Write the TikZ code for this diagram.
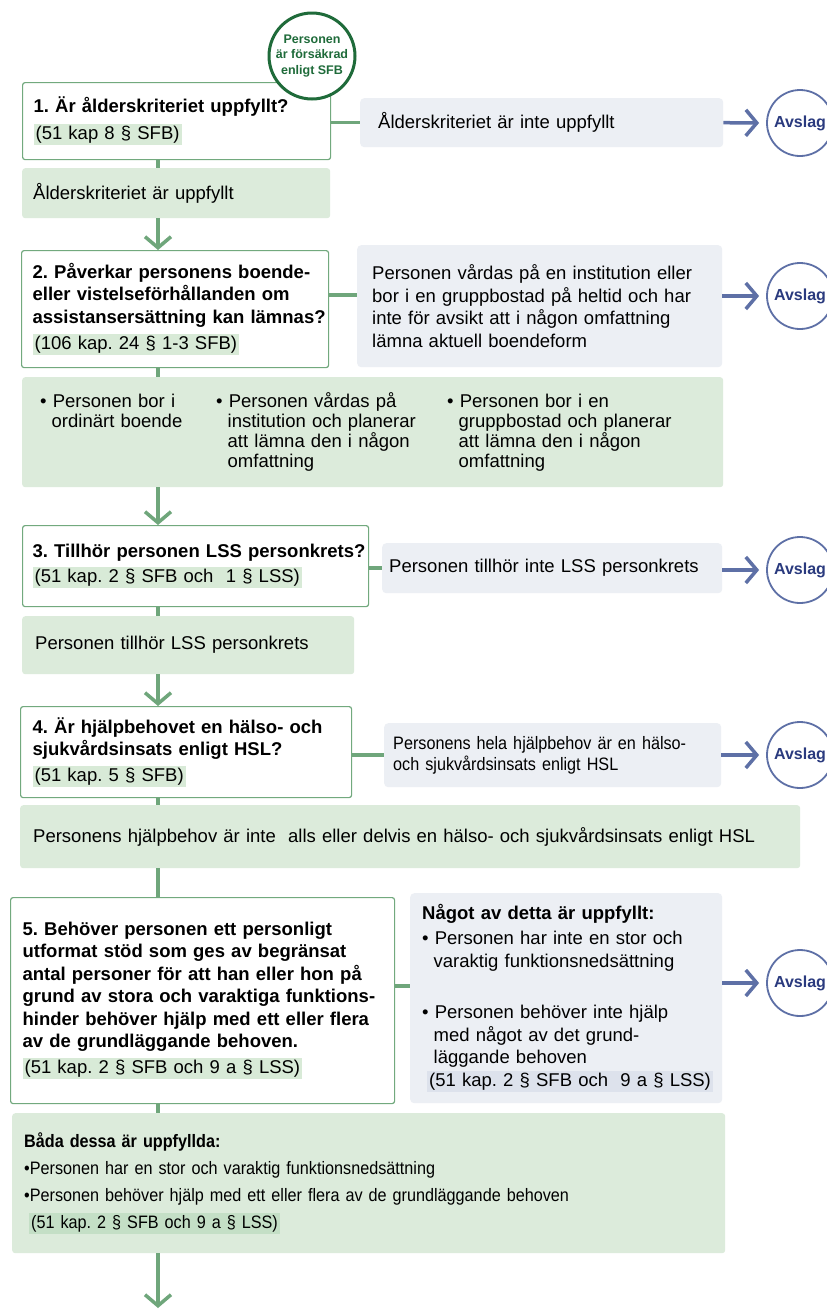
\documentclass[tikz,border=0pt]{standalone}
\usepackage{fontspec}
\setmainfont{Liberation Sans}
\newfontfamily\smalfont[FakeStretch=0.9]{Liberation Sans}
\usetikzlibrary{arrows.meta,positioning}
\frenchspacing

\definecolor{qgreen}{HTML}{72A97E}
\definecolor{linkgreen}{HTML}{6FA67B}
\definecolor{okfill}{HTML}{DCEBDB}
\definecolor{nofill}{HTML}{ECEFF4}
\definecolor{hlwhite}{HTML}{D8EAD7}
\definecolor{hlgreen}{HTML}{C4DFC6}
\definecolor{hlgray}{HTML}{DDE2EC}
\definecolor{rejblue}{HTML}{5E70A6}
\definecolor{rejtext}{HTML}{2A3A7E}
\definecolor{startgreen}{HTML}{1F6B3A}

\newcommand{\lagref}[2][hlwhite]{{\setlength{\fboxsep}{2pt}\colorbox{#1}{#2}}}
\newcommand{\ind}{\hspace*{11.5pt}}

\tikzset{
  question/.style={draw=qgreen, line width=1.2pt, fill=white, rounded corners=2.5pt,
    anchor=north west, align=left, inner xsep=0pt, inner ysep=0pt,
    font=\fontsize{18.5}{22.5}\selectfont},
  yesbox/.style={fill=okfill, rounded corners=3pt, anchor=north west, align=left,
    inner xsep=0pt, inner ysep=0pt, font=\fontsize{18.5}{22.5}\selectfont},
  nobox/.style={fill=nofill, rounded corners=4pt, anchor=north west, align=left,
    inner xsep=0pt, inner ysep=0pt, font=\fontsize{18.5}{22.5}\selectfont},
  textpad/.style={execute at begin node={\leftskip=#1\relax}},
  avslag/.style={circle, draw=rejblue, line width=1.8pt, fill=white, minimum size=66pt,
    inner sep=0pt, text=rejtext, font=\fontsize{16}{18}\selectfont\bfseries},
  start/.style={circle, draw=startgreen, line width=3pt, fill=white, minimum size=86pt,
    inner sep=0pt, align=center, text=startgreen,
    font=\fontsize{12.5}{15.5}\selectfont\bfseries},
  link/.style={linkgreen, line width=3.5pt},
  down/.style={link, -{Straight Barb[length=11pt,width=26pt]}},
  reject/.style={rejblue, line width=3.5pt, shorten >=7pt,
    -{Straight Barb[length=11pt,width=26pt]}},
}

\begin{document}
\begin{tikzpicture}[x=1pt,y=-1pt]
\useasboundingbox[fill=white] (0,0) rectangle (827,1310);
\coordinate (spine) at (158,0);
\coordinate (slut) at (158,1308);

% steg 1
\node[question, text width=308, minimum height=77, textpad=11pt] (q1) at (22,82)
  {\textbf{1. Är ålderskriteriet uppfyllt?}\\[4pt]\lagref{(51 kap 8 § SFB)}};
\node[nobox, text width=363, minimum height=49, textpad=18pt] (n1) at (360,98)
  {Ålderskriteriet är inte uppfyllt};
\node[avslag] (a1) at (800,123) {Avslag};
\node[yesbox, text width=308, minimum height=50, textpad=11pt] (y1) at (22,168)
  {Ålderskriteriet är uppfyllt};
\node[start] (s) at (312,56) {Personen\\är försäkrad\\enligt SFB};

% steg 2
\node[question, text width=307, minimum height=117, textpad=11pt] (q2) at (21,250)
  {\textbf{2. Påverkar personens boende-\\eller vistelseförhållanden om\\assistansersättning kan lämnas?}\\[4pt]\lagref{(106 kap. 24 § 1-3 SFB)}};
\node[nobox, text width=365, minimum height=122, textpad=15pt] (n2) at (357,245)
  {Personen vårdas på en institution eller\\bor i en gruppbostad på heltid och har\\inte för avsikt att i någon omfattning\\lämna aktuell boendeform};
\node[avslag] (a2) at (800,296) {Avslag};
\node[yesbox, text width=701, minimum height=110, textpad=18pt,
  font=\fontsize{18.5}{20}\selectfont] (y2) at (22,377)
  {\parbox[t]{176pt}{• Personen bor i\\\ind ordinärt boende}%
   \parbox[t]{231pt}{• Personen vårdas på\\\ind institution och planerar\\\ind att lämna den i någon\\\ind omfattning}%
   \parbox[t]{250pt}{• Personen bor i en\\\ind gruppbostad och planerar\\\ind att lämna den i någon\\\ind omfattning}};

% steg 3
\node[question, text width=346, minimum height=81, textpad=10pt] (q3) at (22,525)
  {\textbf{3. Tillhör personen LSS personkrets?}\\[3pt]\lagref{(51 kap. 2 § SFB och~ 1 § LSS)}};
\node[nobox, text width=340, minimum height=50, textpad=7pt] (n3) at (382,543)
  {Personen tillhör inte LSS personkrets};
\node[avslag] (a3) at (800,570) {Avslag};
\node[yesbox, text width=332, minimum height=58, textpad=13pt] (y3) at (22,616)
  {Personen tillhör LSS personkrets};

% steg 4
\node[question, text width=331, minimum height=91, textpad=12pt] (q4) at (20,706)
  {\textbf{4. Är hjälpbehovet en hälso- och\\sjukvårdsinsats enligt HSL?}\\[3pt]\lagref{(51 kap. 5 § SFB)}};
\node[nobox, text width=337, minimum height=64, textpad=9pt,
  font=\smalfont\fontsize{18}{21}\selectfont] (n4) at (384,723)
  {Personens hela hjälpbehov är en hälso-\\och sjukvårdsinsats enligt HSL};
\node[avslag] (a4) at (800,755) {Avslag};
\node[yesbox, text width=780, minimum height=63, textpad=13pt] (y4) at (20,805)
  {Personens hjälpbehov är inte~ alls eller delvis en hälso- och sjukvårdsinsats enligt HSL};

% steg 5
\node[question, text width=384, minimum height=206, textpad=12pt] (q5) at (10,897)
  {\textbf{5. Behöver personen ett personligt\\utformat stöd som ges av begränsat\\antal personer för att han eller hon på\\grund av stora och varaktiga funktions-\\hinder behöver hjälp med ett eller flera\\av de grundläggande behoven.}\\[3pt]\lagref{(51 kap. 2 § SFB och 9 a § LSS)}};
\node[nobox, text width=312, minimum height=210, textpad=12pt] (n5) at (410,893)
  {\textbf{Något av detta är uppfyllt:}\\[3pt]
   • Personen har inte en stor och\\\ind varaktig funktionsnedsättning\\[29pt]
   • Personen behöver inte hjälp\\\ind med något av det grund-\\\ind läggande behoven\\
   \hspace*{5pt}\lagref[hlgray]{(51 kap. 2 § SFB och~ 9 a § LSS)}};
\node[avslag] (a5) at (800,983) {Avslag};
\node[yesbox, text width=713, minimum height=140, textpad=12pt,
  font=\smalfont\fontsize{18}{27}\selectfont] (y5) at (12,1113)
  {\textbf{Båda dessa är uppfyllda:}\\
   •Personen har en stor och varaktig funktionsnedsättning\\
   •Personen behöver hjälp med ett eller flera av de grundläggande behoven\\
   \hspace*{5pt}\lagref[hlgreen]{(51 kap. 2 § SFB och 9 a § LSS)}};

% nej-grenar
\draw[link] (q1.east |- n1.west) -- (n1.west);
\draw[link] ([yshift=11pt]q2.east |- n2.west) -- ([yshift=11pt]n2.west);
\draw[link] (q3.east |- n3.west) -- (n3.west);
\draw[link] (q4.east |- n4.west) -- (n4.west);
\draw[link] ([yshift=12pt]q5.east |- n5.west) -- ([yshift=12pt]n5.west);
\draw[reject] (n1.east) -- (a1.west);
\draw[reject] (n2.east |- a2.west) -- (a2.west);
\draw[reject] (n3.east |- a3.west) -- (a3.west);
\draw[reject] (n4.east |- a4.west) -- (a4.west);
\draw[reject] (n5.east |- a5.west) -- (a5.west);

% ja-grenar
\draw[link] (q1.south -| spine) -- (y1.north -| spine);
\draw[down] (y1.south -| spine) -- (q2.north -| spine);
\draw[link] (q2.south -| spine) -- (y2.north -| spine);
\draw[down] (y2.south -| spine) -- (q3.north -| spine);
\draw[link] (q3.south -| spine) -- (y3.north -| spine);
\draw[down] (y3.south -| spine) -- (q4.north -| spine);
\draw[link] (q4.south -| spine) -- (y4.north -| spine);
\draw[link] (y4.south -| spine) -- (q5.north -| spine);
\draw[link] (q5.south -| spine) -- (y5.north -| spine);
\draw[down] (y5.south -| spine) -- (slut);
\end{tikzpicture}
\end{document}
